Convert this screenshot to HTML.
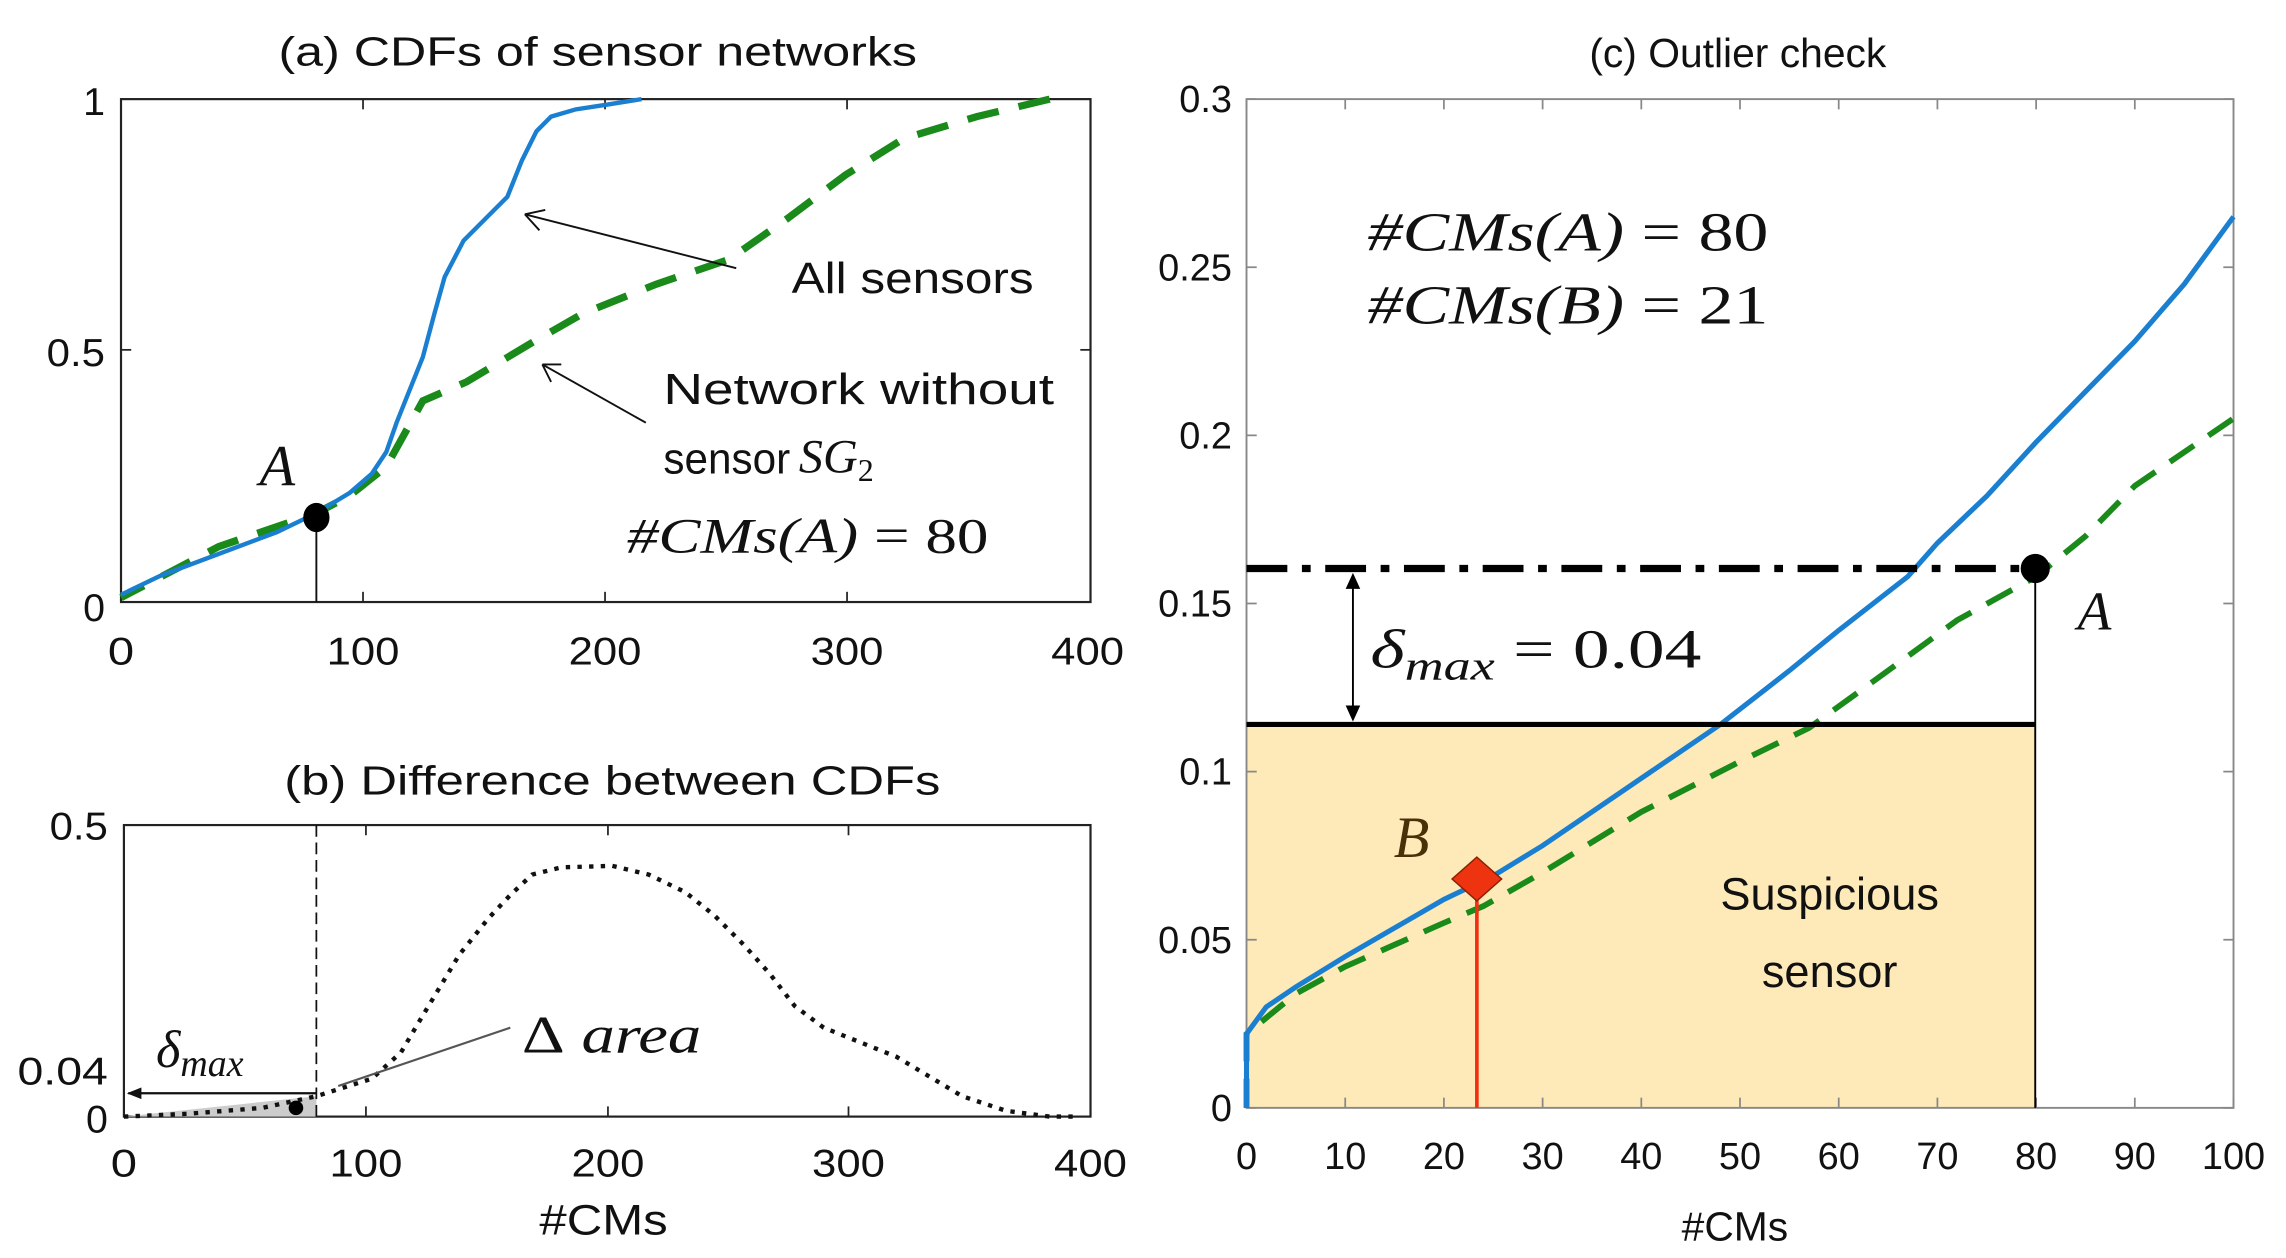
<!DOCTYPE html>
<html><head><meta charset="utf-8"><style>
html,body{margin:0;padding:0;background:#fff}
svg{display:block}
text{font-family:"Liberation Sans",sans-serif;fill:#111}
.s{font-family:"Liberation Serif",serif;font-style:italic}
</style></head><body>
<svg width="2286" height="1258" viewBox="0 0 1568 863" preserveAspectRatio="none" xmlns="http://www.w3.org/2000/svg">
<defs>
<marker id="af" markerWidth="10" markerHeight="8" refX="9" refY="4" orient="auto" markerUnits="userSpaceOnUse"><path d="M0,0 L10,4 L0,8 z" fill="#111"/></marker>
</defs>
<!-- (a) -->
<text x="410" y="45" font-size="28" text-anchor="middle" textLength="438" lengthAdjust="spacingAndGlyphs">(a) CDFs of sensor networks</text>
<rect x="83" y="68" width="665" height="345" fill="none" stroke="#222" stroke-width="1.5"/>
<g stroke="#222" stroke-width="1.2">
<line x1="249" y1="413" x2="249" y2="406"/><line x1="415" y1="413" x2="415" y2="406"/><line x1="581" y1="413" x2="581" y2="406"/>
<line x1="249" y1="68" x2="249" y2="75"/><line x1="415" y1="68" x2="415" y2="75"/><line x1="581" y1="68" x2="581" y2="75"/>
<line x1="83" y1="240" x2="90" y2="240"/><line x1="748" y1="240" x2="741" y2="240"/>
</g>
<g font-size="27" text-anchor="middle">
<text x="83" y="456" textLength="18" lengthAdjust="spacingAndGlyphs">0</text><text x="249" y="456" textLength="50" lengthAdjust="spacingAndGlyphs">100</text><text x="415" y="456" textLength="50" lengthAdjust="spacingAndGlyphs">200</text><text x="581" y="456" textLength="50" lengthAdjust="spacingAndGlyphs">300</text><text x="746" y="456" textLength="50" lengthAdjust="spacingAndGlyphs">400</text>
</g>
<g font-size="27" text-anchor="end">
<text x="72" y="426">0</text><text x="72" y="251" textLength="40" lengthAdjust="spacingAndGlyphs">0.5</text><text x="72" y="79">1</text>
</g>
<path d="M720,68 L670,80 L620,95 L580,120 L540,150 L500,178 L450,195 L400,215 L365,235 L320,262 L290,275 L265,320 L240,340 L217,352 L150,375 L83,410" fill="none" stroke="#1a8a1a" stroke-width="5" stroke-dasharray="22,14"/>
<path d="M83,408 L110,395 L150,380 L190,365 L217,352 L240,338 L255,325 L265,310 L272,290 L280,270 L290,245 L298,215 L305,190 L318,165 L335,148 L348,135 L358,110 L368,90 L378,80 L395,75 L415,72 L440,68" fill="none" stroke="#1a7fd0" stroke-width="3"/>
<line x1="217" y1="355" x2="217" y2="413" stroke="#111" stroke-width="1.3"/>
<ellipse cx="217" cy="355" rx="9" ry="10" fill="#000"/>
<text class="s" x="178" y="333" font-size="40">A</text>
<line x1="505" y1="184" x2="360" y2="147" stroke="#111" stroke-width="1.3"/>
<path d="M360,147 L374,144 M360,147 L370,158" stroke="#111" stroke-width="1.3"/>
<line x1="443" y1="290" x2="372" y2="250" stroke="#111" stroke-width="1.3"/>
<path d="M372,250 L385,250 M372,250 L378,262" stroke="#111" stroke-width="1.3"/>
<g font-size="30">
<text x="543" y="201" textLength="166" lengthAdjust="spacingAndGlyphs">All sensors</text>
<text x="455" y="277" textLength="268" lengthAdjust="spacingAndGlyphs">Network without</text>
<text x="455" y="325" textLength="87" lengthAdjust="spacingAndGlyphs">sensor</text>
</g>
<text class="s" x="548" y="324" font-size="33">SG<tspan font-size="22" dy="6" font-style="normal">2</tspan></text>
<text class="s" x="430" y="379" font-size="34" textLength="248" lengthAdjust="spacingAndGlyphs">#CMs(A) <tspan font-style="normal">= 80</tspan></text>
<!-- (b) -->
<text x="420" y="545" font-size="28" text-anchor="middle" textLength="450" lengthAdjust="spacingAndGlyphs">(b) Difference between CDFs</text>
<rect x="85" y="566" width="663" height="200" fill="none" stroke="#222" stroke-width="1.5"/>
<g stroke="#222" stroke-width="1.2">
<line x1="251" y1="766" x2="251" y2="759"/><line x1="417" y1="766" x2="417" y2="759"/><line x1="582" y1="766" x2="582" y2="759"/>
<line x1="251" y1="566" x2="251" y2="573"/><line x1="417" y1="566" x2="417" y2="573"/><line x1="582" y1="566" x2="582" y2="573"/>
</g>
<g font-size="27" text-anchor="middle">
<text x="85" y="807" textLength="18" lengthAdjust="spacingAndGlyphs">0</text><text x="251" y="807" textLength="50" lengthAdjust="spacingAndGlyphs">100</text><text x="417" y="807" textLength="50" lengthAdjust="spacingAndGlyphs">200</text><text x="582" y="807" textLength="50" lengthAdjust="spacingAndGlyphs">300</text><text x="748" y="807" textLength="50" lengthAdjust="spacingAndGlyphs">400</text>
<text x="414" y="847" font-size="29" textLength="88" lengthAdjust="spacingAndGlyphs">#CMs</text>
</g>
<g font-size="27" text-anchor="end">
<text x="74" y="777">0</text><text x="74" y="744" textLength="62" lengthAdjust="spacingAndGlyphs">0.04</text><text x="74" y="576" textLength="40" lengthAdjust="spacingAndGlyphs">0.5</text>
</g>
<path d="M85,766 L217,752 L217,766 Z" fill="#ccc"/>
<path d="M85,766 L130,764 L180,760 L217,752 L255,740 L275,722 L288,700 L300,680 L315,655 L335,630 L350,614 L365,600 L385,595 L420,594 L445,600 L470,612 L490,628 L510,648 L528,668 L545,690 L565,705 L590,715 L615,725 L640,740 L660,752 L690,762 L720,766 L740,766" fill="none" stroke="#111" stroke-width="3" stroke-dasharray="3,5"/>
<line x1="217" y1="566" x2="217" y2="766" stroke="#111" stroke-width="1.2" stroke-dasharray="8,4"/>
<line x1="217" y1="750" x2="88" y2="750" stroke="#111" stroke-width="1.5" marker-end="url(#af)"/>
<circle cx="203" cy="760" r="5" fill="#000"/>
<line x1="232" y1="745" x2="350" y2="705" stroke="#555" stroke-width="1.5"/>
<text class="s" x="107" y="732" font-size="36">δ<tspan font-size="26" dy="6">max</tspan></text>
<text class="s" x="358" y="722" font-size="36" textLength="123" lengthAdjust="spacingAndGlyphs"><tspan font-style="normal">Δ</tspan> area</text>
<!-- (c) -->
<text x="1192" y="46" font-size="28" text-anchor="middle">(c) Outlier check</text>
<rect x="855" y="497" width="541" height="263" fill="#fdeab8"/>
<rect x="855" y="68" width="677" height="692" fill="none" stroke="#888" stroke-width="1.3"/>
<g stroke="#888" stroke-width="1.2" id="ct"></g>
<g font-size="26" text-anchor="middle" id="cx"></g>
<g font-size="26" text-anchor="end" id="cy"></g>
<text x="1190" y="851" font-size="28" text-anchor="middle">#CMs</text>
<path id="gc" fill="none" stroke="#1a8a1a" stroke-width="4" stroke-dasharray="20,12"/>
<path id="bc" fill="none" stroke="#1a7fd0" stroke-width="3.5"/>
<line x1="855" y1="497" x2="1396" y2="497" stroke="#000" stroke-width="3.5"/>
<line x1="855" y1="390" x2="1396" y2="390" stroke="#000" stroke-width="5" stroke-dasharray="28,10,6,10"/>
<line x1="1396" y1="390" x2="1396" y2="760" stroke="#000" stroke-width="1.3"/>
<circle cx="1396" cy="390" r="10" fill="#000"/>
<text class="s" x="1425" y="432" font-size="38">A</text>
<line x1="928" y1="398" x2="928" y2="490" stroke="#000" stroke-width="1.3"/>
<path d="M928,393 L923,404 L933,404Z M928,495 L923,484 L933,484Z" fill="#000"/>
<text class="s" x="940" y="458" font-size="38" textLength="227" lengthAdjust="spacingAndGlyphs">δ<tspan font-size="28" dy="8">max</tspan><tspan font-style="normal" dy="-8"> = 0.04</tspan></text>
<text class="s" x="938" y="172" font-size="38" textLength="275" lengthAdjust="spacingAndGlyphs">#CMs(A) <tspan font-style="normal">= 80</tspan></text>
<text class="s" x="938" y="222" font-size="38" textLength="275" lengthAdjust="spacingAndGlyphs">#CMs(B) <tspan font-style="normal">= 21</tspan></text>
<line x1="1013" y1="603" x2="1013" y2="760" stroke="#f03010" stroke-width="2.5"/>
<path d="M1013,588 L1030,603 L1013,618 L996,603Z" fill="#ee3311" stroke="#8a2000" stroke-width="1"/>
<text class="s" x="956" y="588" font-size="40" style="fill:#4a3008">B</text>
<text x="1255" y="624" font-size="31" text-anchor="middle">Suspicious</text>
<text x="1255" y="677" font-size="31" text-anchor="middle">sensor</text>
</svg>
<script>
var X=v=>855+v*6.77,Y=v=>760-v*2306.7;
var t='',cx='',cy='';
for(var i=0;i<=100;i+=10){var x=X(i);t+=`<line x1="${x}" y1="760" x2="${x}" y2="753"/><line x1="${x}" y1="68" x2="${x}" y2="75"/>`;cx+=`<text x="${x}" y="802">${i}</text>`;}
for(var j=0;j<=6;j++){var v=j*0.05,y=Y(v);t+=`<line x1="855" y1="${y}" x2="862" y2="${y}"/><line x1="1532" y1="${y}" x2="1525" y2="${y}"/>`;cy+=`<text x="845" y="${y+9}">${+v.toFixed(2)}</text>`;}
document.getElementById('ct').innerHTML=t;document.getElementById('cx').innerHTML=cx;document.getElementById('cy').innerHTML=cy;
function P(a){return 'M'+a.map(p=>X(p[0]).toFixed(1)+','+Y(p[1]).toFixed(1)).join(' L')}
document.getElementById('bc').setAttribute('d',P([[0,0],[0,0.022],[2,0.03],[5,0.036],[10,0.045],[20,0.062],[25,0.069],[30,0.078],[40,0.098],[48,0.114],[55,0.13],[60,0.142],[67,0.158],[70,0.168],[75,0.182],[80,0.198],[85,0.213],[90,0.228],[95,0.245],[100,0.265]]));
document.getElementById('gc').setAttribute('d',P([[0,0],[0,0.022],[5,0.034],[10,0.042],[20,0.055],[24,0.06],[30,0.07],[40,0.088],[50,0.103],[57,0.113],[65,0.13],[72,0.145],[80,0.158],[85,0.17],[90,0.185],[100,0.205]]));
</script>
</body></html>
